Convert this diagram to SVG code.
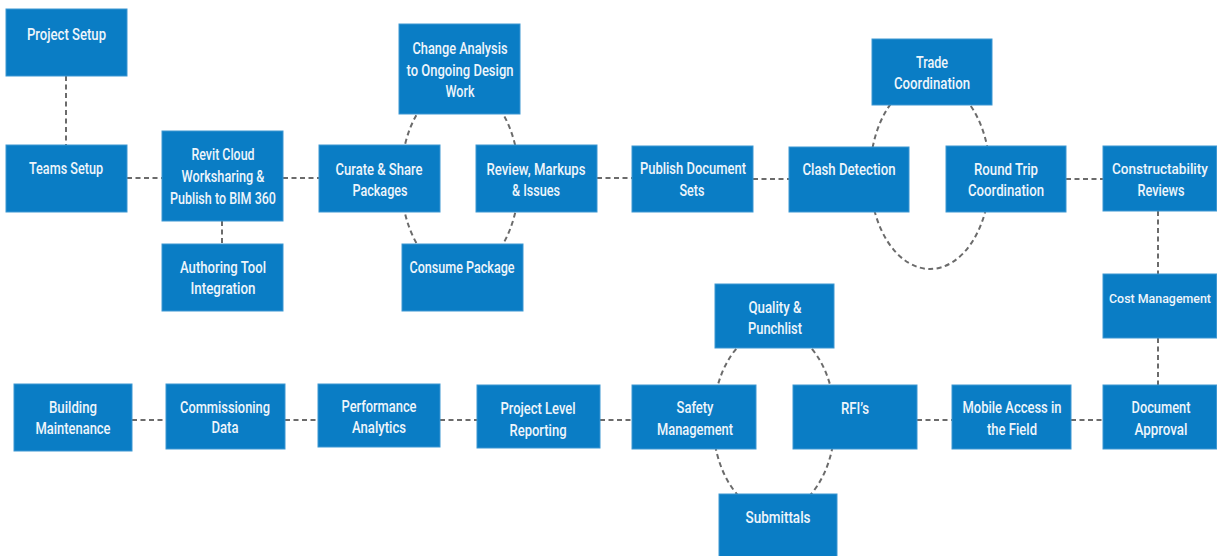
<svg xmlns="http://www.w3.org/2000/svg" width="1217" height="556" viewBox="0 0 1217 556">
<style>
.b{fill:#0a7dc5;stroke:#3d97d2;stroke-width:1}
.t{fill:#eef5fb;font-family:Roboto,"Liberation Sans",sans-serif;font-size:16px;font-weight:500;text-anchor:middle}
.s{font-size:14.5px}
.xs{font-size:13px}
.c{fill:none;stroke:#6b6b6b;stroke-width:2;stroke-dasharray:5 3.5}
</style>
<rect width="1217" height="556" fill="#ffffff"/>
<g id="connectors">
<line class="c" x1="66" y1="76" x2="66" y2="145"/>
<line class="c" x1="127" y1="178" x2="162" y2="178"/>
<line class="c" x1="222" y1="221" x2="222" y2="244"/>
<line class="c" x1="283" y1="178" x2="319" y2="178"/>
<line class="c" x1="597" y1="178" x2="632" y2="178"/>
<line class="c" x1="753" y1="179" x2="789" y2="179"/>
<line class="c" x1="1066" y1="179" x2="1103" y2="179"/>
<line class="c" x1="1158" y1="211" x2="1158" y2="274"/>
<line class="c" x1="1158" y1="338" x2="1158" y2="385"/>
<line class="c" x1="1071" y1="420" x2="1103" y2="420"/>
<line class="c" x1="917" y1="420" x2="952" y2="420"/>
<line class="c" x1="600" y1="420" x2="632" y2="420"/>
<line class="c" x1="440" y1="420" x2="477" y2="420"/>
<line class="c" x1="285" y1="420" x2="318" y2="420"/>
<line class="c" x1="132" y1="420" x2="166" y2="420"/>
<ellipse class="c" cx="460" cy="179" rx="59" ry="95"/>
<ellipse class="c" cx="930" cy="175" rx="60" ry="94"/>
<ellipse class="c" cx="774" cy="421" rx="61" ry="92"/>
</g>
<g id="project-setup"><rect class="b" x="6" y="9" width="121" height="67"/><text class="t" x="66.5" y="40" textLength="79" lengthAdjust="spacingAndGlyphs">Project Setup</text></g>
<g id="teams-setup"><rect class="b" x="6" y="145" width="121" height="67"/><text class="t" x="66" y="174" textLength="74" lengthAdjust="spacingAndGlyphs">Teams Setup</text></g>
<g id="revit-cloud"><rect class="b" x="162" y="131" width="121" height="90"/><text class="t" x="223" y="160" textLength="63" lengthAdjust="spacingAndGlyphs">Revit Cloud</text><text class="t" x="223" y="182" textLength="83" lengthAdjust="spacingAndGlyphs">Worksharing &amp;</text><text class="t" x="223" y="204" textLength="106" lengthAdjust="spacingAndGlyphs">Publish to BIM 360</text></g>
<g id="authoring-tool"><rect class="b" x="162" y="244" width="121" height="67"/><text class="t" x="223" y="273" textLength="86" lengthAdjust="spacingAndGlyphs">Authoring Tool</text><text class="t" x="223" y="294" textLength="65" lengthAdjust="spacingAndGlyphs">Integration</text></g>
<g id="curate-share"><rect class="b" x="319" y="145" width="121" height="67"/><text class="t" x="379" y="175" textLength="87" lengthAdjust="spacingAndGlyphs">Curate &amp; Share</text><text class="t" x="380" y="196" textLength="55" lengthAdjust="spacingAndGlyphs">Packages</text></g>
<g id="change-analysis"><rect class="b" x="399" y="24" width="121" height="90"/><text class="t" x="460" y="54" textLength="95" lengthAdjust="spacingAndGlyphs">Change Analysis</text><text class="t" x="460" y="76" textLength="107" lengthAdjust="spacingAndGlyphs">to Ongoing Design</text><text class="t" x="460" y="97" textLength="29" lengthAdjust="spacingAndGlyphs">Work</text></g>
<g id="review-markups"><rect class="b" x="476" y="145" width="121" height="67"/><text class="t" x="536" y="175" textLength="99" lengthAdjust="spacingAndGlyphs">Review, Markups</text><text class="t" x="536" y="196" textLength="48" lengthAdjust="spacingAndGlyphs">&amp; Issues</text></g>
<g id="consume-package"><rect class="b" x="402" y="244" width="121" height="67"/><text class="t" x="462" y="273" textLength="105" lengthAdjust="spacingAndGlyphs">Consume Package</text></g>
<g id="publish-document-sets"><rect class="b" x="632" y="146" width="121" height="66"/><text class="t" x="693" y="174" textLength="106" lengthAdjust="spacingAndGlyphs">Publish Document</text><text class="t" x="692" y="196" textLength="25" lengthAdjust="spacingAndGlyphs">Sets</text></g>
<g id="clash-detection"><rect class="b" x="789" y="147" width="120" height="65"/><text class="t" x="849" y="175" textLength="93" lengthAdjust="spacingAndGlyphs">Clash Detection</text></g>
<g id="trade-coordination"><rect class="b" x="872" y="39" width="120" height="66"/><text class="t" x="932" y="68" textLength="32" lengthAdjust="spacingAndGlyphs">Trade</text><text class="t" x="932" y="89" textLength="76" lengthAdjust="spacingAndGlyphs">Coordination</text></g>
<g id="round-trip"><rect class="b" x="946" y="146" width="120" height="66"/><text class="t" x="1006" y="175" textLength="64" lengthAdjust="spacingAndGlyphs">Round Trip</text><text class="t" x="1006" y="196" textLength="76" lengthAdjust="spacingAndGlyphs">Coordination</text></g>
<g id="constructability"><rect class="b" x="1103" y="146" width="113.5" height="65"/><text class="t s" x="1160" y="174" textLength="96" lengthAdjust="spacingAndGlyphs">Constructability</text><text class="t" x="1161" y="196" textLength="47" lengthAdjust="spacingAndGlyphs">Reviews</text></g>
<g id="cost-management"><rect class="b" x="1103" y="274" width="113.5" height="64"/><text class="t xs" x="1160" y="303" textLength="102" lengthAdjust="spacingAndGlyphs">Cost Management</text></g>
<g id="document-approval"><rect class="b" x="1103" y="385" width="113.5" height="64"/><text class="t" x="1161" y="413" textLength="59" lengthAdjust="spacingAndGlyphs">Document</text><text class="t" x="1161" y="435" textLength="53" lengthAdjust="spacingAndGlyphs">Approval</text></g>
<g id="mobile-access"><rect class="b" x="952" y="385" width="119" height="64"/><text class="t" x="1012" y="413" textLength="99" lengthAdjust="spacingAndGlyphs">Mobile Access in</text><text class="t" x="1012" y="435" textLength="50" lengthAdjust="spacingAndGlyphs">the Field</text></g>
<g id="rfis"><rect class="b" x="793" y="385" width="124" height="64"/><text class="t" x="855" y="414" textLength="28" lengthAdjust="spacingAndGlyphs">RFI’s</text></g>
<g id="safety-management"><rect class="b" x="632" y="385" width="124" height="64"/><text class="t" x="695" y="413" textLength="37" lengthAdjust="spacingAndGlyphs">Safety</text><text class="t" x="695" y="435" textLength="76" lengthAdjust="spacingAndGlyphs">Management</text></g>
<g id="quality-punchlist"><rect class="b" x="715" y="284" width="119" height="64"/><text class="t" x="775" y="313" textLength="53" lengthAdjust="spacingAndGlyphs">Quality &amp;</text><text class="t" x="775" y="334" textLength="54" lengthAdjust="spacingAndGlyphs">Punchlist</text></g>
<g id="submittals"><rect class="b" x="719" y="494" width="118" height="64"/><text class="t" x="778" y="523" textLength="65" lengthAdjust="spacingAndGlyphs">Submittals</text></g>
<g id="building-maintenance"><rect class="b" x="14" y="384" width="118" height="67"/><text class="t" x="73" y="413" textLength="48" lengthAdjust="spacingAndGlyphs">Building</text><text class="t" x="73" y="434" textLength="75" lengthAdjust="spacingAndGlyphs">Maintenance</text></g>
<g id="commissioning-data"><rect class="b" x="166" y="384" width="119" height="65"/><text class="t" x="225" y="413" textLength="90" lengthAdjust="spacingAndGlyphs">Commissioning</text><text class="t" x="225" y="433" textLength="27" lengthAdjust="spacingAndGlyphs">Data</text></g>
<g id="performance-analytics"><rect class="b" x="318" y="384" width="122" height="63"/><text class="t" x="379" y="412" textLength="75" lengthAdjust="spacingAndGlyphs">Performance</text><text class="t" x="379" y="433" textLength="54" lengthAdjust="spacingAndGlyphs">Analytics</text></g>
<g id="project-level-reporting"><rect class="b" x="477" y="385" width="123" height="63"/><text class="t" x="538" y="414" textLength="75" lengthAdjust="spacingAndGlyphs">Project Level</text><text class="t" x="538" y="436" textLength="57" lengthAdjust="spacingAndGlyphs">Reporting</text></g>
</svg>
